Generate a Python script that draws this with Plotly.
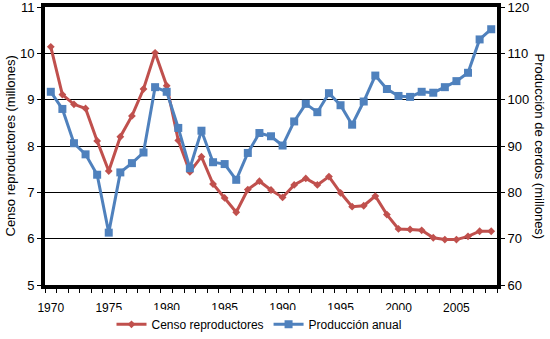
import plotly.graph_objects as go

years = list(range(1970, 2009))

# Censo de reproductoras (millones)
censo = [10.14, 9.11, 8.90, 8.81, 8.11, 7.46, 8.20, 8.65, 9.23, 10.01,
         9.30, 8.12, 7.44, 7.77, 7.18, 6.88, 6.57, 7.06, 7.24, 7.05,
         6.89, 7.16, 7.30, 7.16, 7.34, 6.99, 6.69, 6.71, 6.92, 6.52,
         6.21, 6.20, 6.18, 6.02, 5.98, 5.98, 6.05, 6.16, 6.16]

# Producción anual de cerdos (millones)
produccion = [101.7, 98.0, 90.6, 88.2, 83.8, 71.3, 84.3, 86.3, 88.6, 102.7,
              101.7, 93.9, 85.2, 93.3, 86.5, 86.1, 82.7, 88.5, 92.8, 92.1,
              90.1, 95.3, 99.1, 97.3, 101.4, 98.8, 94.6, 99.6, 105.2, 102.3,
              100.8, 100.6, 101.7, 101.5, 102.7, 104.0, 105.8, 113.0, 115.2]

year_labels = [1970, 1975, 1980, 1985, 1990, 1995, 2000, 2005]
left_ticks = [5, 6, 7, 8, 9, 10, 11]
right_ticks = [60, 70, 80, 90, 100, 110, 120]

RED = "#C0504D"
BLUE = "#4F81BD"
FONT = "Liberation Sans, Arial, sans-serif"

fig = go.Figure()
fig.add_trace(go.Scatter(
    x=years, y=censo, name="Censo reproductores", mode="lines+markers",
    line=dict(color=RED, width=3),
    marker=dict(symbol="diamond", size=6, color=RED),
))
fig.add_trace(go.Scatter(
    x=years, y=produccion, name="Producción anual", mode="lines+markers",
    yaxis="y2",
    line=dict(color=BLUE, width=3),
    marker=dict(symbol="square", size=8, color=BLUE),
))

fig.update_layout(
    width=550, height=339,
    margin=dict(l=45, r=53, t=7, b=54, autoexpand=False),
    paper_bgcolor="white", plot_bgcolor="white",
    font=dict(family=FONT, size=12, color="#000000"),
    showlegend=True,
    legend=dict(orientation="h", x=(259 - 45) / 452, xanchor="center",
                yref="container", y=13 / 339 + 0.005, yanchor="middle",
                font=dict(size=12), itemwidth=30, tracegroupgap=0),
    xaxis=dict(
        range=[1969.5, 2008.5], tickmode="array", tickvals=year_labels,
        ticks="", showgrid=False, zeroline=False,
        showline=True, linecolor="black", linewidth=4, mirror=True,
        minor=dict(ticks="outside", tick0=1969.5, dtick=1, ticklen=4,
                   tickcolor="black", tickwidth=1, showgrid=False),
        tickfont=dict(size=12), ticklabelstandoff=9,
    ),
    yaxis=dict(
        range=[5, 11], tickmode="array", tickvals=left_ticks,
        ticks="outside", ticklen=4, tickcolor="black",
        showgrid=True, gridcolor="black", gridwidth=1, zeroline=False,
        showline=True, linecolor="black", linewidth=4, mirror=True,
        tickfont=dict(size=13), ticklabeloverflow="allow",
    ),
    yaxis2=dict(
        range=[60, 120], tickmode="array", tickvals=right_ticks,
        overlaying="y", side="right",
        ticks="outside", ticklen=4, tickcolor="black",
        showgrid=False, zeroline=False,
        showline=True, linecolor="black", linewidth=4,
        tickfont=dict(size=13), ticklabeloverflow="allow",
    ),
    annotations=[
        dict(text="Censo reproductores (millones)", textangle=-90,
             xref="paper", yref="paper", x=-45 / 452, y=0.5,
             xanchor="left", yanchor="middle", showarrow=False,
             font=dict(size=13)),
        dict(text="Producción de cerdos (millones)", textangle=90,
             xref="paper", yref="paper", x=1 + 52 / 452, y=0.5,
             xanchor="right", yanchor="middle", showarrow=False,
             font=dict(size=13)),
    ],
)

fig.write_html("out.html")
